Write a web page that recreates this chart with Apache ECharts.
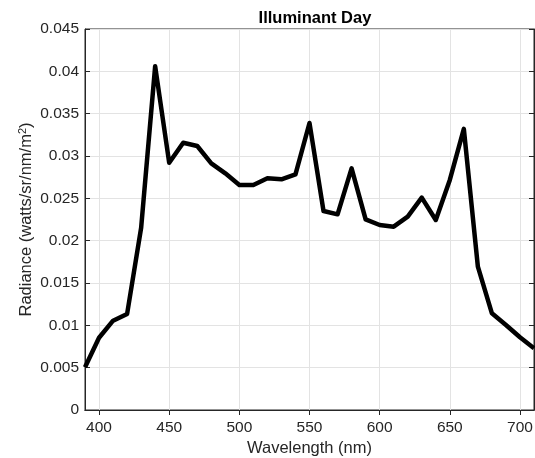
<!DOCTYPE html>
<html>
<head>
<meta charset="utf-8">
<script src="https://cdn.jsdelivr.net/npm/echarts@6/dist/echarts.min.js"></script>
<style>html,body{margin:0;padding:0;background:#fff}#c{width:535px;height:458px}</style>
</head>
<body>
<div id="c"></div>
<script>
var wavelengths = [390,400,410,420,430,440,450,460,470,480,490,500,510,520,530,540,550,560,570,580,590,600,610,620,630,640,650,660,670,680,690,700,710];
var radiance = [0.00504,0.00854,0.01055,0.01134,0.0215,0.0406,0.0292,0.03157,0.03118,0.02913,0.02795,0.02658,0.02658,0.02737,0.02725,0.02784,0.0339,0.0235,0.02311,0.02854,0.02252,0.02185,0.02165,0.02283,0.02508,0.02244,0.02717,0.0332,0.01693,0.01142,0.01004,0.00859,0.00729];
var xTicks = [400,450,500,550,600,650,700];
var yTicks = [0,0.005,0.01,0.015,0.02,0.025,0.03,0.035,0.04,0.045];

var chart = echarts.init(document.getElementById('c'), null, {renderer:'canvas'});
var font = 'Liberation Sans, Arial, Helvetica, sans-serif';
var axisCol = '#262626';
var data = wavelengths.map(function(w,i){return [w, radiance[i]];});
chart.setOption({
  animation:false,
  title:{text:'Illuminant Day', left:310, top:5, textAlign:'center',
    textStyle:{fontFamily:font, fontSize:16.5, fontWeight:'bold', color:'#000'}},
  grid:{left:85, right:1, top:29, bottom:48, show:true, borderColor:axisCol, borderWidth:1,
    containLabel:false, outerBoundsMode:'none'},
  xAxis:[{
    type:'value', min:390, max:710, interval:10,
    name:'Wavelength (nm)', nameLocation:'middle', nameGap:30, nameMoveOverlap:false,
    nameTextStyle:{fontFamily:font, fontSize:16.5, color:axisCol},
    axisLine:{show:true, lineStyle:{color:axisCol}},
    axisTick:{show:true, inside:true, length:5, lineStyle:{color:axisCol},
      customValues:xTicks},
    axisLabel:{fontFamily:font, fontSize:15.5, color:axisCol, margin:10, customValues:xTicks},
    splitLine:{show:false}
  },{
    type:'value', min:390, max:710, position:'top',
    axisLine:{show:true, lineStyle:{color:axisCol}},
    axisTick:{show:true, inside:true, length:5, lineStyle:{color:axisCol}, customValues:xTicks},
    axisLabel:{show:false, customValues:xTicks},
    splitLine:{show:false}
  }],
  yAxis:[{
    type:'value', min:0, max:0.045, interval:0.005,
    name:'Radiance (watts/sr/nm/m{sup|2})', nameLocation:'middle', nameGap:49, nameMoveOverlap:false,
    nameTextStyle:{fontFamily:font, fontSize:16.5, color:axisCol,
      rich:{sup:{fontFamily:font, fontSize:11, color:axisCol, verticalAlign:'top', padding:[0,0,8,0]}}},
    axisLine:{show:true, lineStyle:{color:axisCol}},
    axisTick:{show:true, inside:true, length:5, lineStyle:{color:axisCol}},
    axisLabel:{fontFamily:font, fontSize:15.5, color:axisCol, margin:6,
      formatter:function(v){return String(+v.toFixed(3));}},
    splitLine:{show:true, lineStyle:{color:'#e3e3e3', width:1}}
  },{
    type:'value', min:0, max:0.045, interval:0.005, position:'right',
    axisLine:{show:true, lineStyle:{color:axisCol}},
    axisTick:{show:true, inside:true, length:5, lineStyle:{color:axisCol}},
    axisLabel:{show:false},
    splitLine:{show:false}
  }],
  series:[{
    type:'line', data:data, xAxisIndex:0, yAxisIndex:0,
    showSymbol:false, symbol:'none',
    lineStyle:{color:'#000', width:4.5, join:'round'},
    z:5
  },{
    type:'line', xAxisIndex:0, yAxisIndex:0, data:[], silent:true,
    markLine:{silent:true, symbol:'none', label:{show:false},
      lineStyle:{color:'#e3e3e3', width:1, type:'solid'},
      data:xTicks.map(function(t){return {xAxis:t};})}
  }]
});
</script>
</body>
</html>
